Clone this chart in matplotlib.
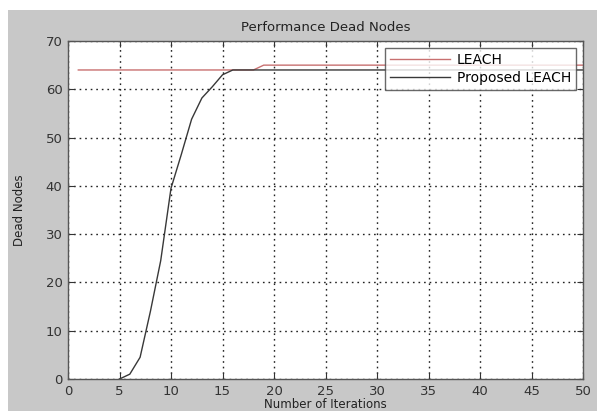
#!/usr/bin/env python3

import numpy as np
import matplotlib.pyplot as plt

# LEACH: dead nodes per iteration
leach_x = [1, 18, 19, 50]
leach_y = [64, 64, 65, 65]

# Proposed LEACH
prop_x = [5, 6, 7, 8, 9, 10, 11, 12, 13, 14, 15, 16, 50]
prop_y = [0, 1, 4.5, 14, 24.5, 39.5, 46.5, 53.8, 58.2, 60.5, 63, 64, 64]

x_ticks = np.arange(0, 51, 5)
y_ticks = np.arange(0, 71, 10)


def main():
    plt.rcParams['font.family'] = ['DejaVu Sans']
    fig = plt.figure(figsize=(5.97, 4.11), dpi=100, facecolor='white')

    # grey matlab-style figure background (screenshot has a white strip top/left)
    bg = fig.add_axes([8/597, 0, 1 - 8/597, 1 - 10/411])
    bg.set_facecolor('#c8c8c8')
    bg.set_xticks([])
    bg.set_yticks([])
    for s in bg.spines.values():
        s.set_visible(False)

    ax = fig.add_axes([68/597, (411-379)/411, (583-68)/597, (379-41)/411])
    ax.set_facecolor('white')

    ax.plot(leach_x, leach_y, color='#c87070', linewidth=1.0, label='LEACH')
    ax.plot(prop_x, prop_y, color='#383838', linewidth=1.0, label='Proposed LEACH')

    ax.set_xlim(0, 50)
    ax.set_ylim(0, 70)
    ax.set_xticks(x_ticks)
    ax.set_yticks(y_ticks)
    ax.tick_params(direction='in', length=4, labelsize=9.5, colors='#333333',
                   top=True, right=True)
    ax.tick_params(axis='x', pad=4)
    ax.tick_params(axis='y', pad=4)
    ax.grid(True, color='#222222', linestyle=(0, (1.2, 2.8)), linewidth=1.0)
    for s in ax.spines.values():
        s.set_color('#555555')
        s.set_linewidth(1.0)

    ax.set_title('Performance Dead Nodes', fontsize=9.5, color='#222222', pad=7)
    ax.set_xlabel('Number of Iterations', fontsize=8.5, color='#222222', labelpad=0)
    ax.set_ylabel('Dead Nodes', fontsize=8.5, color='#222222', labelpad=14)

    leg = ax.legend(loc='upper right', fontsize=10, frameon=True, fancybox=False,
                    handlelength=4.3, borderaxespad=0.5, labelspacing=0.3,
                    borderpad=0.35, handletextpad=0.5)
    leg.get_frame().set_edgecolor('#444444')
    leg.get_frame().set_linewidth(1.0)

    fig.savefig('out.png', dpi=100, facecolor=fig.get_facecolor())


if __name__ == "__main__":
    main()
